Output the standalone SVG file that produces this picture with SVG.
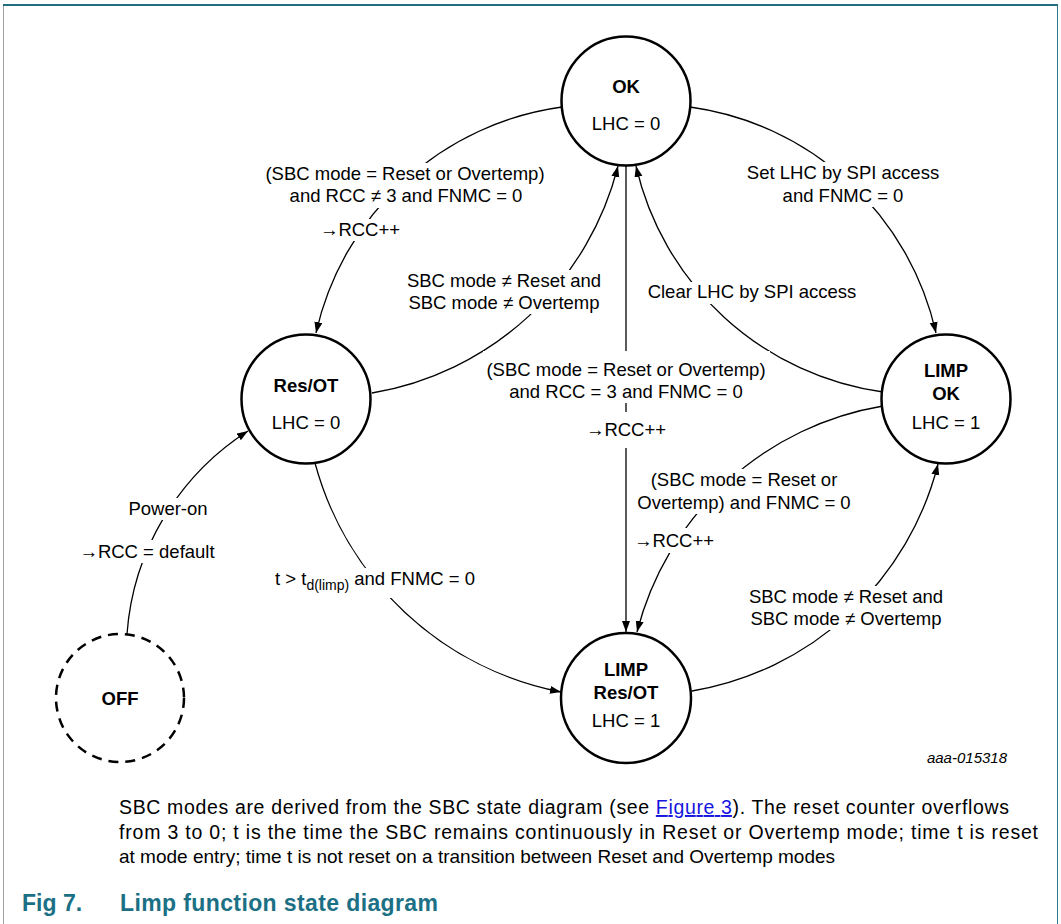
<svg xmlns="http://www.w3.org/2000/svg" width="1061" height="924" viewBox="0 0 1061 924">
<style>
.t{font-family:"Liberation Sans",Arial,sans-serif;font-size:18.5px;text-anchor:middle;fill:#000}
.b{font-weight:bold}
.n{fill:#fff;stroke:#000;stroke-width:2.5}
.dash{stroke-dasharray:10 7}
.e{fill:none;stroke:#000;stroke-width:1.3;marker-end:url(#arr)}
.bg{fill:#fff}
.cap{font-family:"Liberation Sans",Arial,sans-serif;font-size:19.5px;fill:#000}
.fig{font-family:"Liberation Sans",Arial,sans-serif;font-size:23px;font-weight:bold;fill:#1b7085}
</style>
<defs>
<marker id="arr" markerWidth="12" markerHeight="10" refX="11" refY="4" orient="auto" markerUnits="userSpaceOnUse"><path d="M0,0 L11,4 L0,8 z" fill="#000"/></marker>
</defs>
<rect x="0" y="0" width="1061" height="924" fill="#fff"/>
<g id="frame">
<line x1="3.5" y1="5" x2="3.5" y2="924" stroke="#a0a0a0" stroke-width="1"/>
<line x1="1057.5" y1="5" x2="1057.5" y2="924" stroke="#2a7a8c" stroke-width="1"/>
<line x1="3" y1="5" x2="1058" y2="5" stroke="#1f6f80" stroke-width="2"/>
</g>
<g id="connectors">
<path class="e" d="M562,107 A292.8,292.8 0 0 0 316,333"/>
<path class="e" d="M372,393 A306,306 0 0 0 618,166"/>
<path class="e" d="M690,107 A292.8,292.8 0 0 1 936,333"/>
<path class="e" d="M883,392 A295,295 0 0 1 636,166"/>
<path class="e" d="M626,166 L626,632"/>
<path class="e" d="M883,406 A306,306 0 0 0 637,632"/>
<path class="e" d="M692,691 A306,306 0 0 0 938,464"/>
<path class="e" d="M315,463 A318,318 0 0 0 561,692"/>
<path class="e" d="M127,634 A264,264 0 0 1 248,431"/>
</g>
<g id="labels">
<g id="lbl-ok-resot">
<rect class="bg" x="262" y="163" width="286" height="45"/>
<rect class="bg" x="318" y="219" width="85" height="22"/>
<text class="t" x="405" y="180">(SBC mode = Reset or Overtemp)</text>
<text class="t" x="406" y="202">and RCC ≠ 3 and FNMC = 0</text>
<text class="t" x="360" y="236">→RCC++</text>
</g>
<g id="lbl-resot-ok">
<rect class="bg" x="404" y="270" width="200" height="44"/>
<text class="t" x="504" y="287">SBC mode ≠ Reset and</text>
<text class="t" x="504" y="309">SBC mode ≠ Overtemp</text>
</g>
<g id="lbl-ok-limpok">
<rect class="bg" x="744" y="162" width="199" height="45"/>
<text class="t" x="843" y="179">Set LHC by SPI access</text>
<text class="t" x="843" y="202">and FNMC = 0</text>
</g>
<g id="lbl-limpok-ok">
<rect class="bg" x="645" y="282" width="215" height="22"/>
<text class="t" x="752" y="298">Clear LHC by SPI access</text>
</g>
<g id="lbl-ok-limpresot">
<rect class="bg" x="483" y="351" width="287" height="52"/>
<rect class="bg" x="583" y="412" width="86" height="36"/>
<text class="t" x="626" y="376">(SBC mode = Reset or Overtemp)</text>
<text class="t" x="626" y="398">and RCC = 3 and FNMC = 0</text>
<text class="t" x="626" y="436">→RCC++</text>
</g>
<g id="lbl-limpok-limpresot">
<rect class="bg" x="634" y="469" width="221" height="45"/>
<rect class="bg" x="631" y="528" width="87" height="25"/>
<text class="t" x="744" y="486">(SBC mode = Reset or</text>
<text class="t" x="744" y="509">Overtemp) and FNMC = 0</text>
<text class="t" x="674" y="547">→RCC++</text>
</g>
<g id="lbl-limpresot-limpok">
<rect class="bg" x="760" y="586" width="172" height="44"/>
<text class="t" x="846" y="603">SBC mode ≠ Reset and</text>
<text class="t" x="846" y="625">SBC mode ≠ Overtemp</text>
</g>
<g id="lbl-resot-limpresot">
<rect class="bg" x="272" y="568" width="212" height="30"/>
<text class="t" x="275" y="585" style="text-anchor:start">t &gt; t<tspan font-size="14" dy="5">d(limp)</tspan><tspan dy="-5"> and FNMC = 0</tspan></text>
</g>
<g id="lbl-off-resot">
<rect class="bg" x="125" y="498" width="85" height="22"/>
<rect class="bg" x="76" y="540" width="142" height="23"/>
<text class="t" x="168" y="515">Power-on</text>
<text class="t" x="147" y="558">→RCC = default</text>
</g>
</g>
<g id="node-ok">
<circle class="n" cx="626" cy="101" r="64.5"/>
<text class="t b" x="626" y="93">OK</text>
<text class="t" x="626" y="130">LHC = 0</text>
</g>
<g id="node-resot">
<circle class="n" cx="306" cy="399" r="64.5"/>
<text class="t b" x="306" y="392">Res/OT</text>
<text class="t" x="306" y="429">LHC = 0</text>
</g>
<g id="node-limpok">
<circle class="n" cx="946" cy="399" r="64.5"/>
<text class="t b" x="946" y="377">LIMP</text>
<text class="t b" x="946" y="400">OK</text>
<text class="t" x="946" y="429">LHC = 1</text>
</g>
<g id="node-limpresot">
<circle class="n" cx="626" cy="698" r="65"/>
<text class="t b" x="626" y="676">LIMP</text>
<text class="t b" x="626" y="699">Res/OT</text>
<text class="t" x="626" y="727">LHC = 1</text>
</g>
<g id="node-off">
<circle class="n dash" cx="120" cy="698" r="64"/>
<text class="t b" x="120" y="705">OFF</text>
</g>
<text x="1007" y="763" style="font-family:'Liberation Sans',Arial,sans-serif;font-size:15px;font-style:italic;text-anchor:end">aaa-015318</text>
<g id="caption">
<text class="cap" x="119" y="814" textLength="890" lengthAdjust="spacing">SBC modes are derived from the SBC state diagram (see <tspan fill="#1515e0" text-decoration="underline">Figure 3</tspan>). The reset counter overflows</text>
<text class="cap" x="119" y="839" textLength="919" lengthAdjust="spacing">from 3 to 0; t is the time the SBC remains continuously in Reset or Overtemp mode; time t is reset</text>
<text class="cap" x="119" y="863" style="font-size:19px">at mode entry; time t is not reset on a transition between Reset and Overtemp modes</text>
<text class="fig" x="22" y="911">Fig 7.</text>
<text class="fig" x="120" y="911" textLength="318" lengthAdjust="spacing">Limp function state diagram</text>
</g>
</svg>
